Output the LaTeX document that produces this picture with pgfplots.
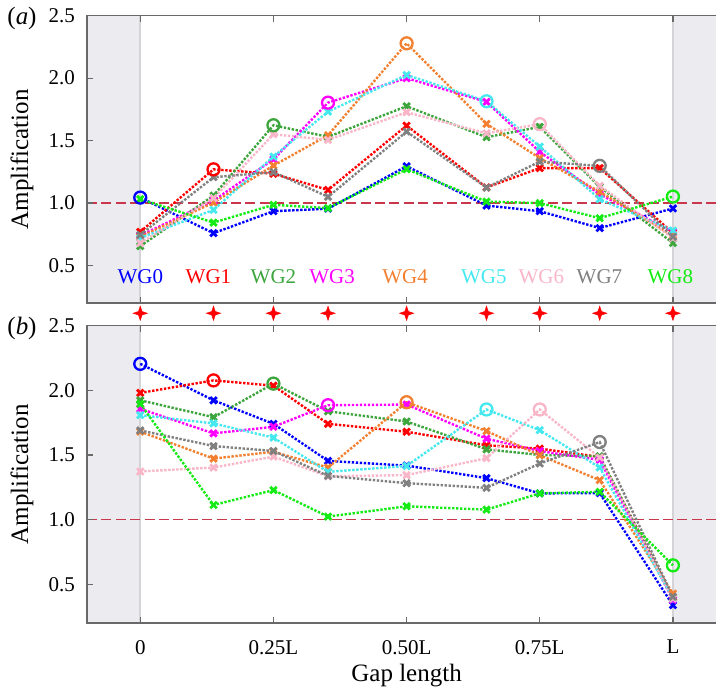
\documentclass[border=0pt]{standalone}
\usepackage{pgfplots}
\usepackage{pgfplotstable}
\pgfplotsset{compat=1.18}
\usepackage{fontspec}
\setmainfont{Liberation Serif}

\definecolor{cA}{RGB}{0,0,255}
\definecolor{cB}{RGB}{255,0,0}
\definecolor{cC}{RGB}{60,165,60}
\definecolor{cD}{RGB}{255,0,255}
\definecolor{cE}{RGB}{242,128,48}
\definecolor{cF}{RGB}{70,232,240}
\definecolor{cG}{RGB}{248,182,200}
\definecolor{cH}{RGB}{128,128,128}
\definecolor{cI}{RGB}{20,235,20}
\definecolor{bgray}{RGB}{236,236,240}
\definecolor{lgray}{RGB}{212,212,216}
\definecolor{frame}{RGB}{105,105,105}
\definecolor{refred}{RGB}{200,55,75}

\pgfdeclareplotmark{star4}{%
  \pgfpathmoveto{\pgfqpoint{0pt}{\pgfplotmarksize}}%
  \pgfpathlineto{\pgfqpoint{0.25\pgfplotmarksize}{0.25\pgfplotmarksize}}%
  \pgfpathlineto{\pgfqpoint{\pgfplotmarksize}{0pt}}%
  \pgfpathlineto{\pgfqpoint{0.25\pgfplotmarksize}{-0.25\pgfplotmarksize}}%
  \pgfpathlineto{\pgfqpoint{0pt}{-\pgfplotmarksize}}%
  \pgfpathlineto{\pgfqpoint{-0.25\pgfplotmarksize}{-0.25\pgfplotmarksize}}%
  \pgfpathlineto{\pgfqpoint{-\pgfplotmarksize}{0pt}}%
  \pgfpathlineto{\pgfqpoint{-0.25\pgfplotmarksize}{0.25\pgfplotmarksize}}%
  \pgfpathclose
  \pgfusepathqfillstroke}

\pgfplotstableread{
x w0 w1 w2 w3 w4 w5 w6 w7 w8
0 1.044 0.770 0.655 0.740 0.730 0.720 0.680 0.746 1.031
0.1375 0.759 1.270 1.060 1.020 1.004 0.946 1.039 1.207 0.844
0.25 0.935 1.235 1.623 1.350 1.300 1.372 1.551 1.248 0.986
0.3525 0.955 1.105 1.530 1.804 1.543 1.732 1.506 1.050 0.960
0.5 1.295 1.620 1.775 2.000 2.279 2.026 1.727 1.572 1.271
0.65 0.980 1.125 1.527 1.810 1.634 1.815 1.559 1.124 1.012
0.75 0.935 1.280 1.610 1.410 1.360 1.452 1.632 1.332 1.000
0.8625 0.800 1.280 1.130 1.070 1.090 1.031 1.138 1.298 0.879
1 0.957 0.760 0.680 0.770 0.740 0.780 0.720 0.730 1.052
}\tabA

\pgfplotstableread{
x w0 w1 w2 w3 w4 w5 w6 w7 w8
0 2.205 1.980 1.923 1.857 1.680 1.808 1.372 1.690 1.895
0.1375 1.923 2.077 1.792 1.667 1.472 1.744 1.403 1.569 1.113
0.25 1.741 2.036 2.052 1.718 1.525 1.634 1.487 1.531 1.228
0.3525 1.454 1.741 1.838 1.885 1.403 1.369 1.335 1.338 1.023
0.5 1.418 1.680 1.759 1.890 1.908 1.415 1.344 1.282 1.103
0.65 1.321 1.575 1.544 1.626 1.685 1.852 1.475 1.246 1.077
0.75 1.203 1.549 1.500 1.530 1.498 1.692 1.852 1.434 1.203
0.8625 1.205 1.485 1.490 1.462 1.305 1.403 1.480 1.600 1.215
1 0.338 0.400 0.390 0.380 0.428 0.390 0.390 0.403 0.646
}\tabB

\pgfplotsset{
  wg/.style={line width=1.2pt, dash pattern=on 1.2pt off 0.8pt, mark=x, mark size=2.3pt,
    mark options={solid, line width=1.4pt}},
  wgo/.style={only marks, mark=o, mark size=3pt, mark options={solid, line width=1.15pt}},
  common/.style={
    scale only axis, width=319.6pt,
    xmin=-0.1, xmax=1.1, ymin=0.2, ymax=2.5,
    xtick={0,0.25,0.5,0.75,1},
    ytick={0.5,1,1.5,2,2.5},
    /pgf/number format/assume math mode=true,
    yticklabel style={/pgf/number format/.cd, fixed, fixed zerofill, precision=1, /tikz/.cd,
      font=\rmfamily\fontsize{10.5pt}{12pt}\selectfont, xshift=-2.5pt},
    axis line style={draw=frame, line width=0.6pt},
    tick style={draw=frame, line width=0.6pt},
    major tick length=3pt,
    axis on top, clip=false,
    ylabel={Amplification},
    ylabel style={at={(axis description cs:-0.1017,0.5)}, anchor=center,
      font=\rmfamily\fontsize{12.5pt}{14pt}\selectfont},
  },
}

\newcommand{\decor}{%
  \fill[bgray] (axis cs:-0.1,0.2) rectangle (axis cs:0,2.5);
  \fill[bgray] (axis cs:1,0.2) rectangle (axis cs:1.1,2.5);
  \draw[lgray, line width=0.8pt] (axis cs:0,0.2) -- (axis cs:0,2.5);
  \draw[lgray, line width=0.8pt] (axis cs:1,0.2) -- (axis cs:1,2.5);
  \addplot[refred, line width=0.8pt, dash pattern=on 5pt off 2.2pt, forget plot] coordinates {(-0.1,1) (1.1,1)};
}

\newcommand{\series}[1]{%
  \addplot[wg, cA, mark indices={2,3,4,5,6,7,8,9}] table[x=x,y=w0] {#1};
  \addplot[wg, cB, mark indices={1,3,4,5,6,7,8,9}] table[x=x,y=w1] {#1};
  \addplot[wg, cC, mark indices={1,2,4,5,6,7,8,9}] table[x=x,y=w2] {#1};
  \addplot[wg, cD, mark indices={1,2,3,5,6,7,8,9}] table[x=x,y=w3] {#1};
  \addplot[wg, cE, mark indices={1,2,3,4,6,7,8,9}] table[x=x,y=w4] {#1};
  \addplot[wg, cF, mark indices={1,2,3,4,5,7,8,9}] table[x=x,y=w5] {#1};
  \addplot[wg, cG, mark indices={1,2,3,4,5,6,8,9}] table[x=x,y=w6] {#1};
  \addplot[wg, cH, mark indices={1,2,3,4,5,6,7,9}] table[x=x,y=w7] {#1};
  \addplot[wg, cI, mark indices={1,2,3,4,5,6,7,8}] table[x=x,y=w8] {#1};
  \addplot[wgo, cA, mark indices={1}] table[x=x,y=w0] {#1};
  \addplot[wgo, cB, mark indices={2}] table[x=x,y=w1] {#1};
  \addplot[wgo, cC, mark indices={3}] table[x=x,y=w2] {#1};
  \addplot[wgo, cD, mark indices={4}] table[x=x,y=w3] {#1};
  \addplot[wgo, cE, mark indices={5}] table[x=x,y=w4] {#1};
  \addplot[wgo, cF, mark indices={6}] table[x=x,y=w5] {#1};
  \addplot[wgo, cG, mark indices={7}] table[x=x,y=w6] {#1};
  \addplot[wgo, cH, mark indices={8}] table[x=x,y=w7] {#1};
  \addplot[wgo, cI, mark indices={9}] table[x=x,y=w8] {#1};
}

\begin{document}
\begin{tikzpicture}
\begin{axis}[common, name=top, at={(0pt,0pt)}, anchor=north west,
  height=143.65pt, xticklabels={}]
  \decor
  \series{\tabA}
  \addplot[only marks, mark=star4, mark size=3.6pt, color=red,
    mark options={fill=red, draw=red, line width=0.2pt}]
    coordinates {(0,0.118) (0.1375,0.118) (0.25,0.118) (0.3525,0.118) (0.5,0.118)
      (0.65,0.118) (0.75,0.118) (0.8625,0.118) (1,0.118)};
  \begin{scope}[font=\rmfamily\fontsize{10.5pt}{12pt}\selectfont]
  \node[text=cA] at (axis cs:0,0.41) {WG0};
  \node[text=cB] at (axis cs:0.128,0.41) {WG1};
  \node[text=cC] at (axis cs:0.25,0.41) {WG2};
  \node[text=cD] at (axis cs:0.36,0.41) {WG3};
  \node[text=cE] at (axis cs:0.497,0.41) {WG4};
  \node[text=cF] at (axis cs:0.645,0.41) {WG5};
  \node[text=cG] at (axis cs:0.753,0.41) {WG6};
  \node[text=cH] at (axis cs:0.862,0.41) {WG7};
  \node[text=cI] at (axis cs:0.995,0.41) {WG8};
  \end{scope}
\end{axis}
\begin{axis}[common, name=bot, at={(0pt,-155pt)}, anchor=north west,
  height=148.65pt,
  xticklabels={0,0.25L,0.50L,0.75L,L},
  xticklabel style={font=\rmfamily\fontsize{10.5pt}{12pt}\selectfont, yshift=-5pt},
  xlabel={Gap length},
  xlabel style={at={(axis description cs:0.5,0)}, anchor=center, yshift=-26.5pt,
    font=\rmfamily\fontsize{12.5pt}{14pt}\selectfont}]
  \decor
  \series{\tabB}
\end{axis}
\node[font=\rmfamily\fontsize{12.5pt}{14pt}\selectfont] at ([xshift=-32.5pt,yshift=-1.5pt]top.north west) {(\textit{a})};
\node[font=\rmfamily\fontsize{12.5pt}{14pt}\selectfont] at ([xshift=-32.5pt,yshift=-1.6pt]bot.north west) {(\textit{b})};
\pgfresetboundingbox
\path[use as bounding box] (-43.5pt,7.85pt) rectangle (314.5pt,-338.15pt);
\end{tikzpicture}
\end{document}
